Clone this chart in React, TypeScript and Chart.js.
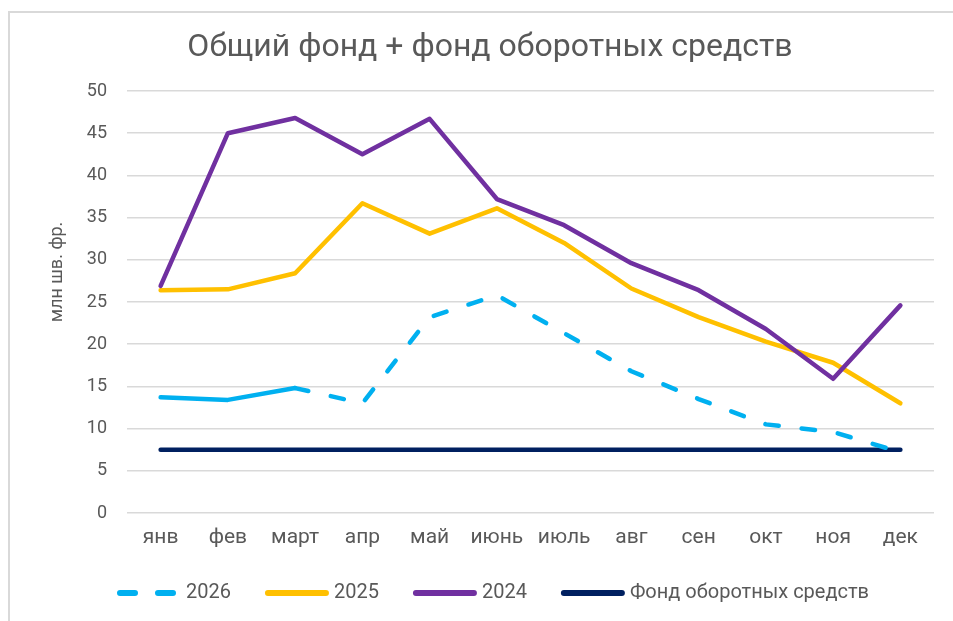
import React, { useEffect, useRef } from "react";
import { Chart, registerables } from "chart.js";

Chart.register(...registerables);

const months = ["янв", "фев", "март", "апр", "май", "июнь", "июль", "авг", "сен", "окт", "ноя", "дек"];
const s2026 = [13.7, 13.4, 14.8, 13.0, 23.2, 25.8, 21.3, 16.8, 13.5, 10.5, 9.6, 7.2];
const s2025 = [26.4, 26.5, 28.4, 36.7, 33.1, 36.1, 32.0, 26.6, 23.2, 20.3, 17.8, 13.0];
const s2024 = [26.9, 45.0, 46.8, 42.5, 46.7, 37.2, 34.1, 29.6, 26.4, 21.8, 15.9, 24.6];
const fund = [7.5, 7.5, 7.5, 7.5, 7.5, 7.5, 7.5, 7.5, 7.5, 7.5, 7.5, 7.5];
const seriesNames = ["2026", "2025", "2024", "Фонд оборотных средств"];

const TITLE = "Общий фонд + фонд оборотных средств";
const Y_TITLE = "млн шв. фр.";
const FONT = "Roboto, 'Noto Sans', sans-serif";
const TEXT = "#595959";
const GRID = "#d9d9d9";

const decorPlugin = {
  id: "decor",
  beforeDraw(chart: any) {
    const ctx = chart.ctx;
    ctx.save();
    ctx.fillStyle = "#ffffff";
    ctx.fillRect(0, 0, chart.width, chart.height);
    ctx.strokeStyle = "#d9d9d9";
    ctx.lineWidth = 2;
    ctx.beginPath();
    ctx.moveTo(9, chart.height);
    ctx.lineTo(9, 12);
    ctx.lineTo(chart.width, 12);
    ctx.stroke();
    ctx.restore();
  },
  afterDraw(chart: any) {
    const ctx = chart.ctx;
    ctx.save();
    // title
    ctx.fillStyle = TEXT;
    ctx.font = `32px ${FONT}`;
    ctx.textAlign = "center";
    ctx.textBaseline = "middle";
    ctx.fillText(TITLE, 490, 48);
    // y axis title
    ctx.save();
    ctx.translate(57, 272);
    ctx.rotate(-Math.PI / 2);
    ctx.font = `18px ${FONT}`;
    ctx.fillText(Y_TITLE, 0, 0);
    ctx.restore();
    // legend
    ctx.font = `20px ${FONT}`;
    ctx.textAlign = "left";
    ctx.textBaseline = "middle";
    let x = 117;
    const y = 593;
    chart.data.datasets.forEach((ds: any) => {
      ctx.save();
      ctx.strokeStyle = ds.borderColor;
      ctx.lineWidth = 6;
      ctx.lineCap = "round";
      ctx.setLineDash(ds.legendDash || []);
      ctx.beginPath();
      ctx.moveTo(x + 3, y);
      ctx.lineTo(x + 61, y);
      ctx.stroke();
      ctx.restore();
      const tx = x + 69;
      ctx.fillStyle = TEXT;
      ctx.fillText(ds.label, tx, y);
      x = tx + ctx.measureText(ds.label).width + 34;
    });
    ctx.restore();
  },
};

export default function App() {
  const ref = useRef<HTMLCanvasElement | null>(null);
  useEffect(() => {
    if (!ref.current) return;
    const dash = [13.5, 23];
    const chart = new Chart(ref.current, {
      type: "line",
      data: {
        labels: months,
        datasets: [
          {
            label: seriesNames[0],
            data: s2026,
            borderColor: "#00b0f0",
            borderWidth: 4.5,
            order: 0,
            segment: {
              borderDash: (c: any) => (c.p0DataIndex >= 2 ? dash : undefined),
            },
            legendDash: [15, 23],
          } as any,
          { label: seriesNames[1], data: s2025, borderColor: "#ffc000", borderWidth: 4.5, order: 3 },
          { label: seriesNames[2], data: s2024, borderColor: "#7030a0", borderWidth: 4.5, order: 2 },
          { label: seriesNames[3], data: fund, borderColor: "#002060", borderWidth: 4.5, order: 1 },
        ],
      },
      options: {
        animation: false,
        responsive: false,
        maintainAspectRatio: false,
        layout: { padding: { left: 40, right: 19, top: 91, bottom: 68 } },
        elements: {
          point: { radius: 0, hoverRadius: 0 },
          line: { tension: 0, borderCapStyle: "round", borderJoinStyle: "round", fill: false },
        },
        plugins: {
          legend: { display: false },
          title: { display: false },
          tooltip: { enabled: false },
        },
        scales: {
          x: {
            offset: true,
            grid: { display: false, drawTicks: false },
            border: { display: false },
            ticks: { color: TEXT, font: { family: FONT, size: 21 }, padding: 12, maxRotation: 0, autoSkip: false },
            afterFit: (s: any) => { s.height = 40; },
          },
          y: {
            min: 0,
            max: 50,
            ticks: { stepSize: 5, color: TEXT, font: { family: FONT, size: 18 }, padding: 20 },
            grid: { color: GRID, lineWidth: 1.5, drawTicks: false },
            border: { display: false },
            afterFit: (s: any) => { s.width = 87; },
          },
        },
      },
      plugins: [decorPlugin],
    });
    return () => chart.destroy();
  }, []);
  return (
    <div style={{ position: "fixed", left: 0, top: 0, width: 953, height: 621, background: "#fff" }}>
      <canvas ref={ref} width={953} height={621} style={{ width: 953, height: 621, display: "block" }} />
    </div>
  );
}
